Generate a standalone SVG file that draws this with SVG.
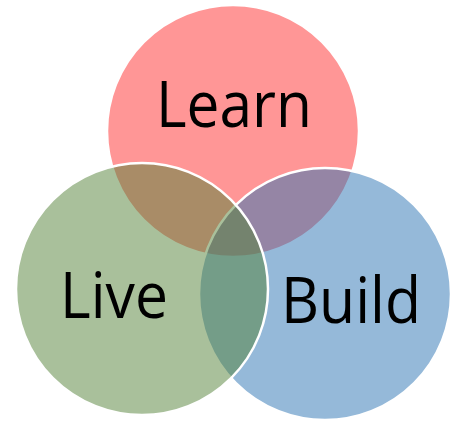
<svg xmlns="http://www.w3.org/2000/svg" width="450" height="421" viewBox="0 0 450 421">
<style>
.c{stroke:#fff;stroke-width:2.5;}
.t{font-family:"Open Sans","Noto Sans",sans-serif;font-size:64px;fill:#000;text-anchor:middle;}
</style>
<rect width="450" height="421" fill="#fff"/>
<g id="learn">
<circle class="c" cx="233" cy="131" r="126" fill="rgb(255,45,45)" fill-opacity="0.5"/>
</g>
<g id="build">
<circle class="c" cx="325" cy="294" r="126" fill="rgb(43,115,179)" fill-opacity="0.5"/>
</g>
<g id="live">
<circle class="c" cx="142" cy="289" r="126" fill="rgb(83,129,55)" fill-opacity="0.5"/>
</g>
<g id="labels">
<text class="t" x="234" y="127" textLength="156" lengthAdjust="spacingAndGlyphs">Learn</text>
<text class="t" x="114" y="318" textLength="108" lengthAdjust="spacingAndGlyphs">Live</text>
<text class="t" x="351" y="323" textLength="140" lengthAdjust="spacingAndGlyphs">Build</text>
</g>
<g id="connectors"></g>
</svg>
